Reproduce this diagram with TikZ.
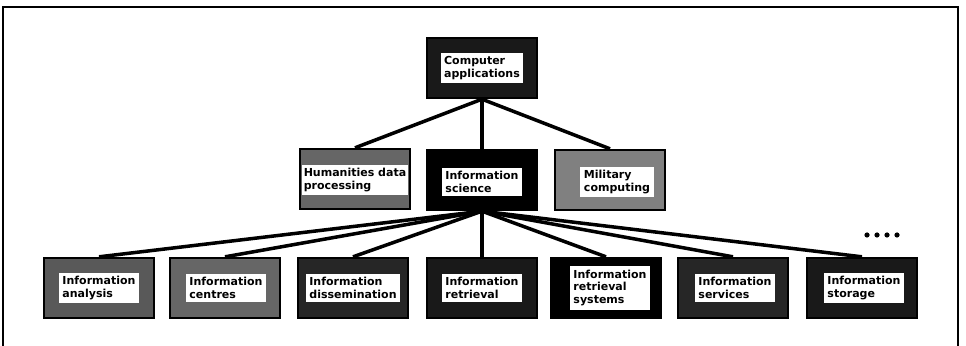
\documentclass[tikz,border=0pt]{standalone}
\usepackage{fontspec}
\setmainfont{DejaVu Sans}
\tikzset{
  panel/.style={draw=black, line width=2pt, fill=#1, minimum width=3.3cm, minimum height=1.8cm, inner sep=0pt},
  plate/.style={fill=white, align=left, inner sep=3pt, font=\bfseries\fontsize{9.4}{11}\selectfont},
  link/.style={line width=3pt}
}
\begin{document}
\begin{tikzpicture}[x=0.03cm, y=-0.03cm]
  \useasboundingbox (0,0) rectangle (966,346);
  \draw[line width=1pt] (3,346) -- (3,7) -- (958,7) -- (958,346);
  % top level
  \node[panel=black!90] (ca) at (482,68) {};
  \node[plate] (cat) at (ca) {Computer\\applications};
  % second level
  \node[panel=black!60] (hd) at (355,179) {};
  \node[plate, inner xsep=1.5pt] (hdt) at (355,180) {Humanities data\\processing};
  \node[panel=black] (is) at (482,180) {};
  \node[plate] (ist) at (482,182) {Information\\science};
  \node[panel=black!50] (mc) at (610,180) {};
  \node[plate] (mct) at (617,182) {Military\\computing};
  % third level
  \node[panel=black!65] (ia) at (99,288) {};
  \node[plate] (iat) at (99,288) {Information\\analysis};
  \node[panel=black!60] (ic) at (225,288) {};
  \node[plate] (ict) at (226,288) {Information\\centres};
  \node[panel=black!85] (id) at (353,288) {};
  \node[plate] (idt) at (353,288) {Information\\dissemination};
  \node[panel=black!90] (ir) at (482,288) {};
  \node[plate] (irt) at (482,288) {Information\\retrieval};
  \node[panel=black] (irs) at (606,288) {};
  \node[plate] (irst) at (610,288) {Information\\retrieval\\systems};
  \node[panel=black!85] (isv) at (733,288) {};
  \node[plate] (isvt) at (735,288) {Information\\services};
  \node[panel=black!90] (ist2) at (862,288) {};
  \node[plate] (ist2t) at (864,288) {Information\\storage};
  % connectors
  \foreach \n in {hd,is,mc}
    \draw[link] (ca.south) -- (\n.north);
  \foreach \n in {ia,ic,id,ir,irs,isv,ist2}
    \draw[link] (is.south) -- (\n.north);
  % more topics
  \foreach \i in {0,1,2,3}
    \fill (867+10*\i,235) circle (2.6);
\end{tikzpicture}
\end{document}
